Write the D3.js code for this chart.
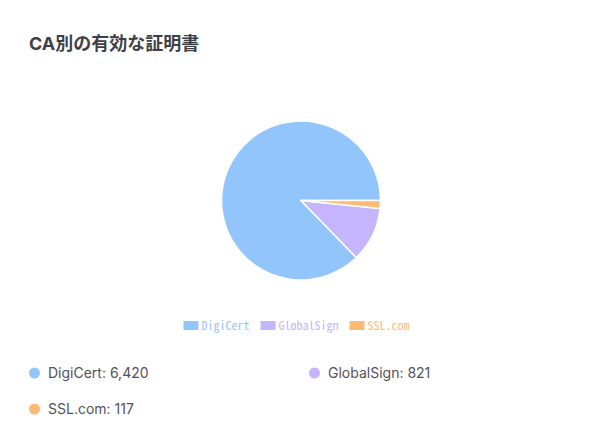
<!DOCTYPE html>
<html>
<head>
<meta charset="utf-8">
<script src="https://cdn.jsdelivr.net/npm/d3@7"></script>
<style>
	html, body { margin: 0; padding: 0; background: #fff; }
	svg { display: block; }
</style>
</head>
<body>
<div id="chart"></div>
<script>
var title = 'CA別の有効な証明書';
var categories = ['DigiCert', 'GlobalSign', 'SSL.com'];
var counts = [6420, 821, 117];
var colors = ['#93c5fd', '#c4b5fd', '#fdba74'];

(function() {
	var width = 604, height = 445
		, cx = 301, cy = 200.5, r = 79.5;

	var svg = d3.select('#chart')
		.append('svg')
		.attr('width', width)
		.attr('height', height);

	svg.append('text')
		.text(title)
		.attr('x', 29)
		.attr('y', 50)
		.attr('font-family', 'Inter, "Noto Sans CJK JP", sans-serif')
		.attr('font-weight', 700)
		.attr('font-size', 18)
		.attr('fill', '#3f3f46');

	var data = categories.map(function(c, i) { return {name: c, value: counts[i], color: colors[i]}; });

	// counter-clockwise from 3 o'clock
	var pie = d3.pie()
		.sort(null)
		.value(function(d) { return d.value; })
		.startAngle(Math.PI / 2)
		.endAngle(Math.PI / 2 - 2 * Math.PI);
	var arc = d3.arc().innerRadius(0).outerRadius(r);

	svg.append('g')
		.attr('transform', 'translate(' + cx + ',' + cy + ')')
		.selectAll('path')
		.data(pie(data))
		.enter().append('path')
			.attr('d', arc)
			.attr('fill', function(d) { return d.data.color; })
			.attr('stroke', '#fff')
			.attr('stroke-width', 1.5)
			.attr('stroke-linejoin', 'round');

	// top legend (boxes + coloured labels)
	var legendFont = '"Noto Sans Mono CJK JP", "Noto Sans CJK JP", monospace';
	var lg = svg.append('g');
	var x = 0;
	data.forEach(function(d) {
		var g = lg.append('g').attr('transform', 'translate(' + x + ',0)');
		g.append('rect')
			.attr('x', 0).attr('y', 321)
			.attr('width', 15).attr('height', 9)
			.attr('fill', d.color);
		var t = g.append('text')
			.text(d.name)
			.attr('x', 18)
			.attr('y', 329.5)
			.attr('font-family', legendFont)
			.attr('font-size', 12)
			.attr('fill', d.color);
		x += 18 + t.node().getComputedTextLength() + 11;
	});
	var lw = x - 11;
	lg.attr('transform', 'translate(' + (cx - lw / 2 - 4.5) + ',0)');

	// bottom list
	var fmt = d3.format(',');
	var colX = [34.5, 314.5], rowY = [373, 409];
	data.forEach(function(d, i) {
		var px = colX[i % 2], py = rowY[Math.floor(i / 2)];
		svg.append('circle')
			.attr('cx', px).attr('cy', py)
			.attr('r', 5.5)
			.attr('fill', d.color);
		svg.append('text')
			.text(d.name + ': ' + fmt(d.value))
			.attr('x', px + 13.5)
			.attr('y', py + 5)
			.attr('font-family', 'Inter, sans-serif')
			.attr('font-size', 14)
			.attr('fill', '#52525b');
	});
})();
</script>
</body>
</html>
